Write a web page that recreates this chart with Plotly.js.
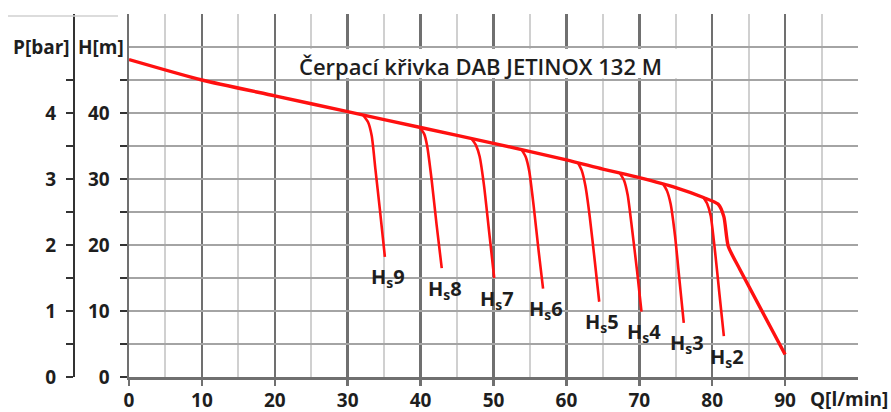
<!DOCTYPE html>
<html>
<head>
<meta charset="utf-8">
<script src="https://cdn.plot.ly/plotly-3.0.1.min.js"></script>
<style>html,body{margin:0;padding:0;background:#fff;}#chart{width:891px;height:412px;}</style>
</head>
<body>
<div id="chart"></div>
<script>
// ---- data ----
const titleText = 'Čerpací křivka DAB JETINOX 132 M';
const xTickVals = [0, 10, 20, 30, 40, 50, 60, 70, 80, 90];
const hTickVals = [0, 10, 20, 30, 40];
const hMinorVals = [5, 15, 25, 35, 45];
const pTickVals = [0, 1, 2, 3, 4];
const pMinorVals = [0.5, 1.5, 2.5, 3.5, 4.5];

const mainQ = [0, 10, 20, 30, 40, 50, 60, 65, 70, 75, 78.8, 80.8, 81.6, 82.2, 83.8, 90];
const mainH = [48.1, 45.0, 42.6, 40.2, 37.8, 35.4, 32.9, 31.5, 30.2, 28.7, 27.2, 26.2, 24.3, 19.8, 16.3, 3.4];

const hs9Q = [32.1, 32.8, 33.3, 33.8, 34.4, 35.1];
const hs9H = [39.7, 38.6, 36.5, 31.5, 25.5, 18.2];
const hs8Q = [39.9, 40.5, 40.9, 41.5, 42.2, 42.9];
const hs8H = [37.8, 36.8, 35.0, 30.0, 23.0, 16.5];
const hs7Q = [47.0, 47.6, 48.1, 48.7, 49.4, 50.1];
const hs7H = [36.1, 35.1, 33.4, 29.0, 22.0, 15.0];
const hs6Q = [53.85, 54.4, 54.9, 55.5, 56.2, 56.8];
const hs6H = [34.45, 33.4, 31.2, 26.0, 19.0, 13.4];
const hs5Q = [61.6, 62.1, 62.6, 63.2, 63.9, 64.5];
const hs5H = [32.45, 31.3, 29.0, 24.3, 17.5, 11.4];
const hs4Q = [67.35, 67.9, 68.4, 69.0, 69.7, 70.3];
const hs4H = [30.85, 29.8, 27.6, 22.5, 16.0, 9.9];
const hs3Q = [73.3, 73.8, 74.3, 74.9, 75.5, 76.1];
const hs3H = [29.2, 28.2, 26.2, 21.4, 14.8, 8.2];
const hs2Q = [78.8, 79.3, 79.8, 80.4, 81.0, 81.6];
const hs2H = [27.2, 26.3, 24.4, 18.9, 12.5, 6.2];

const stageNums = ['9', '8', '7', '6', '5', '4', '3', '2'];
const branchQ = [hs9Q, hs8Q, hs7Q, hs6Q, hs5Q, hs4Q, hs3Q, hs2Q];
const branchH = [hs9H, hs8H, hs7H, hs6H, hs5H, hs4H, hs3H, hs2H];

// ---- styling ----
const RED = '#ff1010';
const TXT = '#1e1e1e';
const FONT = 'Open Sans';
const DARK = '#707070';
const LIGHT = '#d0d0d0';
const HGRID = '#a4a4a4';

const traces = [];
branchQ.forEach((q, i) => {
  traces.push({
    x: q, y: branchH[i], type: 'scatter', mode: 'lines',
    line: {color: RED, width: 2.6, shape: 'spline', smoothing: 0.6},
    hoverinfo: 'skip', showlegend: false, xaxis: 'x', yaxis: 'y'
  });
});
traces.push({
  x: mainQ, y: mainH, type: 'scatter', mode: 'lines',
  line: {color: RED, width: 3.4, shape: 'spline', smoothing: 0.6},
  hoverinfo: 'skip', showlegend: false, xaxis: 'x', yaxis: 'y'
});
// axis carriers (no marks)
traces.push({x: [], y: [], type: 'scatter', mode: 'lines', xaxis: 'x', yaxis: 'y2', showlegend: false, hoverinfo: 'skip'});
traces.push({x: [], y: [], type: 'scatter', mode: 'lines', xaxis: 'x', yaxis: 'y3', showlegend: false, hoverinfo: 'skip'});

const mL = 10, mR = 33, mT = 14, mB = 35;
const paperW = 891 - mL - mR;
const paperH = 412 - mT - mB;
const px2paperX = px => (px - mL) / paperW;
const px2paperY = py => (412 - mB - py) / paperH;

const tickFont = {family: FONT, size: 19, color: TXT, weight: 700};

const annotations = [
  {text: titleText, x: 48.15, y: 47.1, xref: 'x', yref: 'y', showarrow: false,
   font: {family: FONT, size: 22, color: TXT, weight: 600}, xanchor: 'center', yanchor: 'middle'},
  {text: 'P[bar]', x: px2paperX(41), y: px2paperY(47), xref: 'paper', yref: 'paper', showarrow: false,
   font: tickFont, xanchor: 'center', yanchor: 'middle'},
  {text: 'H[m]', x: px2paperX(101), y: px2paperY(47), xref: 'paper', yref: 'paper', showarrow: false,
   font: tickFont, xanchor: 'center', yanchor: 'middle'},
  {text: 'Q[l/min]', x: px2paperX(849), y: px2paperY(399), xref: 'paper', yref: 'paper', showarrow: false,
   font: tickFont, xanchor: 'center', yanchor: 'middle'}
];
stageNums.forEach((s, i) => {
  const q = branchQ[i], h = branchH[i];
  annotations.push({
    text: 'H<sub>s</sub>' + s, x: q[q.length - 1], y: h[h.length - 1], xref: 'x', yref: 'y',
    showarrow: false, xanchor: 'center', yanchor: 'middle', xshift: 3, yshift: -21,
    font: {family: FONT, size: 20, color: TXT, weight: 700}
  });
});

const layout = {
  width: 891, height: 412,
  margin: {l: mL, r: mR, t: mT, b: mB, pad: 0},
  paper_bgcolor: '#ffffff', plot_bgcolor: '#ffffff',
  showlegend: false,
  xaxis: {
    domain: [px2paperX(129), 1], range: [0, 100], fixedrange: true,
    tickmode: 'array', tickvals: xTickVals,
    ticks: 'outside', ticklen: 6, tickwidth: 2.5, tickcolor: DARK,
    showgrid: true, gridcolor: DARK, gridwidth: 2.5,
    minor: {tickmode: 'linear', tick0: 0, dtick: 5, showgrid: true, gridcolor: LIGHT, gridwidth: 2, ticks: ''},
    showline: true, linecolor: DARK, linewidth: 3,
    zeroline: false, tickfont: tickFont, ticklabelstandoff: -2
  },
  yaxis: {
    range: [0, 55], fixedrange: true,
    tickmode: 'array', tickvals: hTickVals,
    ticks: 'outside', ticklen: 7, tickwidth: 2, tickcolor: '#333333',
    minor: {tickmode: 'array', tickvals: hMinorVals, ticks: 'outside', ticklen: 7, tickwidth: 2, tickcolor: '#333333', showgrid: false},
    showgrid: false, zeroline: false,
    showline: true, linecolor: DARK, linewidth: 2.5,
    tickfont: tickFont, ticklabelstandoff: 6
  },
  yaxis3: {
    overlaying: 'y', anchor: 'x', side: 'left', range: [0, 55], fixedrange: true,
    tickmode: 'linear', tick0: 0, dtick: 5,
    showgrid: true, gridcolor: HGRID, gridwidth: 2,
    showticklabels: false, ticks: '', zeroline: false, showline: false
  },
  yaxis2: {
    overlaying: 'y', anchor: 'free', position: px2paperX(74), side: 'left',
    range: [0, 5.5], fixedrange: true,
    tickmode: 'array', tickvals: pTickVals,
    ticks: 'outside', ticklen: 7, tickwidth: 2, tickcolor: '#333333',
    minor: {tickmode: 'array', tickvals: pMinorVals, ticks: 'outside', ticklen: 7, tickwidth: 2, tickcolor: '#333333', showgrid: false},
    showgrid: false, zeroline: false,
    showline: true, linecolor: '#333333', linewidth: 2,
    tickfont: tickFont, ticklabelstandoff: 6
  },
  shapes: [
    {type: 'rect', xref: 'x', yref: 'y', x0: 21.4, x1: 77, y0: 45.25, y1: 49.75,
     fillcolor: '#ffffff', line: {width: 0}, layer: 'between'},
    {type: 'line', xref: 'paper', yref: 'paper', x0: px2paperX(8), x1: px2paperX(118), y0: px2paperY(16), y1: px2paperY(16),
     line: {color: LIGHT, width: 1.5}}
  ],
  annotations: annotations
};

Plotly.newPlot('chart', traces, layout, {staticPlot: true, displayModeBar: false});
</script>
</body>
</html>
